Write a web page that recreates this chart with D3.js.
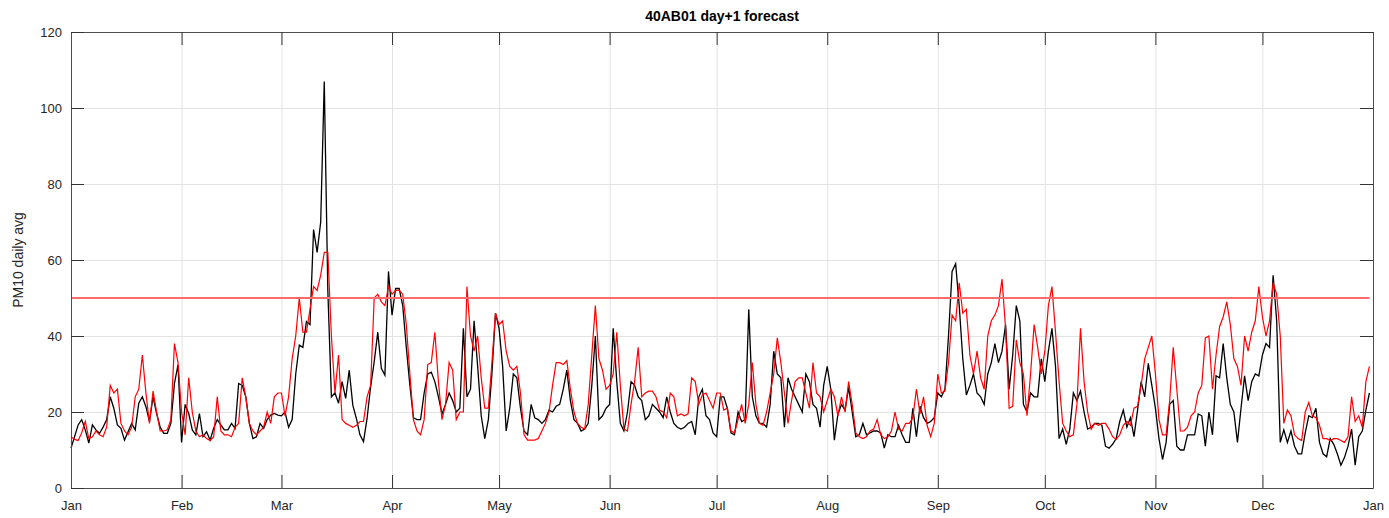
<!DOCTYPE html>
<html>
<head>
<meta charset="utf-8">
<script src="https://cdn.jsdelivr.net/npm/d3@7"></script>
<style>
  body { margin: 0; background: #fff; }
  svg { display: block; font-family: "Liberation Sans", Arial, sans-serif; }
</style>
</head>
<body>
<div id="chart"></div>
<script>
const title = "40AB01 day+1 forecast";
const yLabel = "PM10 daily avg";
const yTicks = [0, 20, 40, 60, 80, 100, 120];
const startDate = new Date(2015, 0, 1);
const endDate = new Date(2016, 0, 1);
const limitValue = 50;

// daily averages, Jan 1 .. Dec 31
const observed = [
  10.5, 13.5, 16.6, 18, 15.3, 11.8, 16.6, 15.3, 14.4, 16, 18, 24, 21, 16.6, 15.7, 12.6, 14.8, 17, 15.3, 22.3, 24, 21.4, 17.5, 24, 19.6, 16, 14.4, 14.4, 17, 27.5, 32.4,
  12, 22, 19.6, 15.3, 14, 19.6, 13.5, 14.8, 12.6, 15.7, 18, 16.6, 15.3, 15.3, 17, 15.7, 27.5, 27, 24, 17, 13, 13.5, 17, 15.7, 18, 19.2, 19.6, 19.2,
  19, 20, 16, 18, 30, 37.6, 37, 43.8, 43, 68, 62, 70, 107, 52, 24, 25, 22.3, 28, 23.6, 31, 21.8, 18.3, 14, 12.2, 18.3, 26.7, 33.2, 41, 31.5, 29.7, 57,
  45.5, 52.5, 52.5, 48, 37, 27, 18.5, 18, 18, 25, 30, 30.5, 28, 24, 19.5, 22, 25, 23, 20, 21, 42, 24, 26, 44, 32, 19, 13, 18, 30, 46,
  42, 32, 15, 21, 30, 29, 21, 15, 14, 22, 18.5, 18, 17, 18, 20.5, 20, 21.5, 22, 26, 31, 23, 18, 17, 15, 15.5, 17, 27, 40, 18, 19, 21,
  22, 42, 28, 17, 15, 20, 28, 27, 24, 23, 18, 19, 22, 21, 20, 18.5, 24, 20, 17, 16, 15.5, 16, 17, 17.5, 14, 24, 26, 19, 18,
  14.5, 13.5, 24, 24, 21, 14.5, 14, 20, 17.5, 18, 47, 24, 19, 17, 17, 16, 22, 36, 30, 29, 16, 29, 26, 24, 22, 20, 30, 28, 22, 21, 16,
  27, 32, 26, 12.6, 19.5, 22, 20.5, 26.5, 20, 13.5, 14, 17, 14, 14.5, 15, 15, 14.5, 10.5, 14, 13.5, 13.5, 16.5, 14, 12, 12, 21, 13.5, 21.5, 18.5, 17, 17.5,
  18.5, 25, 24, 26, 40, 57, 59, 48, 34, 24.5, 27, 30, 25, 24, 22, 30, 33, 38, 33, 36, 43, 26, 35, 48, 44, 22, 20, 25, 24, 24,
  34, 28, 36, 42, 32, 13, 15.5, 11.5, 15.5, 25, 23, 25.5, 20, 15.5, 16, 17, 17, 16.5, 11, 10.5, 11.5, 13, 17.5, 20.5, 16, 18.5, 13.5, 20.5, 28, 24, 32.8,
  27, 21, 13, 7.5, 12, 22, 23, 11, 10, 10, 14, 14, 14, 19.5, 19, 11, 20, 14, 29.5, 29, 38, 29, 22, 20, 12, 21, 29.5, 23, 28, 30,
  29.5, 35, 38, 37, 56, 44, 12, 15.3, 12, 15, 11, 9, 9, 14.5, 19, 18.5, 21, 12, 9, 8.2, 13, 11.5, 9, 6, 8, 11, 15.5, 6, 13.5, 15, 20.5, 25
];

const forecast = [
  13.5, 12.8, 12.5, 14.5, 17.5, 13, 13.5, 15, 14, 13.5, 16, 27, 25, 26, 17, 15, 14, 16, 24, 26, 35, 25, 17, 25.5, 20, 15, 15, 15.3, 18, 38, 33,
  20, 14, 29, 20, 15, 13.5, 14, 13, 12.5, 13.5, 24, 15, 14, 14, 13.5, 16, 17, 29, 24, 17, 15, 14, 15, 16, 20, 17, 24, 25,
  25, 19, 24, 34, 40, 50, 41, 41, 47, 53, 52, 56, 62, 62, 40, 25, 35, 18, 17, 16.5, 16, 16.5, 17.5, 17.5, 24, 27, 50, 51, 49, 48, 53,
  51, 52, 52, 51, 43, 30, 18, 15, 14, 18, 32.5, 33, 41, 28, 18, 22, 33, 31, 18, 20, 20, 53, 40, 36, 40, 29, 21, 21, 33, 46,
  43, 44, 36, 32, 31, 32, 25, 14, 12.6, 12.6, 12.6, 13, 15, 17, 20, 27, 33, 33, 32.5, 33.5, 26, 20, 17, 16, 15.5, 22, 35, 48, 34, 31, 26,
  27, 30, 41, 27, 15.5, 15, 22, 28, 37, 24, 25, 25.5, 25.5, 24, 20.5, 20, 18.5, 25, 24, 19, 19.5, 19, 19.5, 29, 28, 22, 24.5, 25, 23,
  21, 25, 25, 20.5, 21, 15, 14.5, 18, 22, 17, 22, 33, 22, 17, 16.5, 20, 25, 30, 39.5, 33, 25, 17, 23, 28, 29, 29, 25, 21, 33, 25, 24,
  20, 23, 26, 24, 19, 24, 20, 28, 22, 14.5, 13.5, 13, 13.5, 15, 15.5, 18, 14, 13, 13.5, 15, 20, 15.5, 15, 17, 17, 18.5, 26, 19.5, 24, 16.5, 13.5,
  17, 30, 25, 25.5, 33, 45.5, 44, 54, 46, 47, 35, 30, 36, 29, 26, 40, 44, 45.5, 48, 55, 42, 21, 21.5, 39, 33, 30, 19, 30, 43, 37,
  30, 36, 48, 53, 41, 28, 17, 15, 13.5, 14, 22, 42, 28, 20, 15.5, 17, 16.5, 17, 17, 15.5, 13.5, 12.8, 14, 16.5, 17.5, 16.5, 21, 21.5, 27, 34, 37,
  40, 30, 18, 14, 14, 23, 37, 26, 15, 15, 16, 19, 20, 25, 27, 39.5, 40, 26, 35, 42.5, 45, 49, 43, 34, 32, 27, 40, 36, 41, 44,
  53, 45, 40, 44, 54, 51, 40, 17, 20.5, 19, 14, 13, 12.5, 20, 22.5, 19, 18.5, 16.5, 13, 13, 12.5, 13, 13, 12.5, 12, 13.5, 24, 17.5, 19, 16, 28, 32
];

const W = 1389, H = 518;
const margin = {top: 32, right: 16, bottom: 30, left: 71};
const width = W - margin.left - margin.right,
      height = H - margin.top - margin.bottom;
const tick = 13;

const svg = d3.select("#chart").append("svg")
    .attr("width", W)
    .attr("height", H);
svg.append("rect").attr("width", W).attr("height", H).attr("fill", "#fff");

const g = svg.append("g")
    .attr("transform", `translate(${margin.left}, ${margin.top})`);

const x = d3.scaleTime().domain([startDate, endDate]).range([0, width]);
const y = d3.scaleLinear().domain([0, 120]).range([height, 0]);
const months = d3.timeMonth.range(startDate, d3.timeDay.offset(endDate, 1));

const dayOf = i => d3.timeDay.offset(startDate, i);

// grid
g.append("g")
    .attr("transform", `translate(0, ${height})`)
    .call(d3.axisBottom(x).tickValues(months).tickSize(-height).tickFormat(""))
    .call(a => a.select(".domain").remove())
    .call(a => a.selectAll("line").attr("stroke", "#e3e3e3"));
g.append("g")
    .call(d3.axisLeft(y).tickValues(yTicks).tickSize(-width).tickFormat(""))
    .call(a => a.select(".domain").remove())
    .call(a => a.selectAll("line").attr("stroke", "#e3e3e3"));

// series
const line = d3.line()
    .x((d, i) => x(dayOf(i)))
    .y(d => y(d));

g.append("path")
    .datum(observed)
    .attr("fill", "none")
    .attr("stroke", "#000")
    .attr("stroke-width", 1.3)
    .attr("d", line);

g.append("path")
    .datum(forecast)
    .attr("fill", "none")
    .attr("stroke", "#ff0000")
    .attr("stroke-width", 1.2)
    .attr("d", line);

// limit line
g.append("line")
    .attr("x1", x(dayOf(0)))
    .attr("x2", x(dayOf(observed.length - 1)))
    .attr("y1", y(limitValue))
    .attr("y2", y(limitValue))
    .attr("stroke", "#ff6a6a")
    .attr("stroke-width", 2);

// axes
const styleAxis = a => {
  a.select(".domain").attr("stroke", "#4d4d4d");
  a.selectAll(".tick line").attr("stroke", "#333");
  a.selectAll("text").attr("fill", "#262626").style("font-size", "13px");
};

g.append("g")
    .attr("transform", `translate(0, ${height})`)
    .call(d3.axisBottom(x).tickValues(months).tickFormat(d3.timeFormat("%b"))
        .tickSize(-tick).tickSizeOuter(0).tickPadding(13))
    .call(styleAxis);
g.append("g")
    .call(d3.axisTop(x).tickValues(months).tickFormat("").tickSize(-tick).tickSizeOuter(0))
    .call(styleAxis);
g.append("g")
    .call(d3.axisLeft(y).tickValues(yTicks).tickSize(-tick).tickSizeOuter(0).tickPadding(9))
    .call(styleAxis);
g.append("g")
    .attr("transform", `translate(${width}, 0)`)
    .call(d3.axisRight(y).tickValues(yTicks).tickFormat("").tickSize(-tick).tickSizeOuter(0))
    .call(styleAxis);

// title and label
svg.append("text")
    .attr("x", margin.left + width / 2)
    .attr("y", 21)
    .attr("text-anchor", "middle")
    .attr("font-weight", "bold")
    .attr("font-size", "14px")
    .attr("fill", "#000")
    .text(title);

svg.append("text")
    .attr("transform", `translate(23, ${margin.top + height / 2}) rotate(-90)`)
    .attr("text-anchor", "middle")
    .attr("font-size", "14px")
    .attr("fill", "#262626")
    .text(yLabel);
</script>
</body>
</html>
